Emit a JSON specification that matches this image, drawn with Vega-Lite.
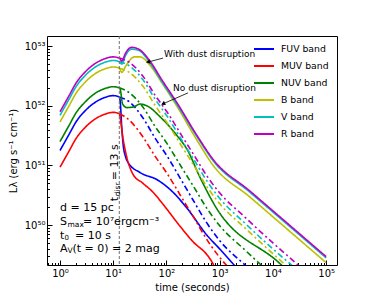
{
  "$schema": "https://vega.github.io/schema/vega-lite/v6.json",
  "width": 290,
  "height": 229,
  "autosize": {"type": "none"},
  "padding": {"left": 47, "top": 36, "right": 37, "bottom": 34},
  "background": "white",
  "config": {
    "view": {"stroke": "black", "strokeWidth": 1},
    "font": "DejaVu Sans",
    "text": {"font": "DejaVu Sans", "color": "black"}
  },
  "resolve": {"axis": {"x": "independent", "y": "independent"}},
  "datasets": {
    "curves": [
      {"t":1,"L":1.78e51,"band":"FUV band","model":"with"},
      {"t":1.5,"L":3.39e51,"band":"FUV band","model":"with"},
      {"t":2,"L":5.37e51,"band":"FUV band","model":"with"},
      {"t":3,"L":8.32e51,"band":"FUV band","model":"with"},
      {"t":5,"L":1.20e52,"band":"FUV band","model":"with"},
      {"t":7,"L":1.38e52,"band":"FUV band","model":"with"},
      {"t":10,"L":1.48e52,"band":"FUV band","model":"with"},
      {"t":13,"L":1.41e52,"band":"FUV band","model":"with"},
      {"t":13.6,"L":1.12e52,"band":"FUV band","model":"with"},
      {"t":14.5,"L":4.17e51,"band":"FUV band","model":"with"},
      {"t":15.5,"L":2.09e51,"band":"FUV band","model":"with"},
      {"t":17,"L":1.41e51,"band":"FUV band","model":"with"},
      {"t":19,"L":1.12e51,"band":"FUV band","model":"with"},
      {"t":32,"L":7.59e50,"band":"FUV band","model":"with"},
      {"t":67,"L":5.75e50,"band":"FUV band","model":"with"},
      {"t":133,"L":3.55e50,"band":"FUV band","model":"with"},
      {"t":244,"L":1.91e50,"band":"FUV band","model":"with"},
      {"t":577,"L":6.76e49,"band":"FUV band","model":"with"},
      {"t":1000,"L":3.98e49,"band":"FUV band","model":"with"},
      {"t":2000,"L":2.00e49,"band":"FUV band","model":"with"},
      {"t":13,"L":1.41e52,"band":"FUV band","model":"no"},
      {"t":20,"L":1.17e52,"band":"FUV band","model":"no"},
      {"t":36,"L":6.31e51,"band":"FUV band","model":"no"},
      {"t":61,"L":2.88e51,"band":"FUV band","model":"no"},
      {"t":102,"L":1.45e51,"band":"FUV band","model":"no"},
      {"t":200,"L":5.25e50,"band":"FUV band","model":"no"},
      {"t":316,"L":2.63e50,"band":"FUV band","model":"no"},
      {"t":600,"L":1.02e50,"band":"FUV band","model":"no"},
      {"t":977,"L":5.62e49,"band":"FUV band","model":"no"},
      {"t":3000,"L":2.14e49,"band":"FUV band","model":"no"},
      {"t":5000,"L":1.41e49,"band":"FUV band","model":"no"},
      {"t":1,"L":9.33e50,"band":"MUV band","model":"with"},
      {"t":1.5,"L":1.78e51,"band":"MUV band","model":"with"},
      {"t":2,"L":2.82e51,"band":"MUV band","model":"with"},
      {"t":3,"L":4.37e51,"band":"MUV band","model":"with"},
      {"t":5,"L":6.31e51,"band":"MUV band","model":"with"},
      {"t":7,"L":7.24e51,"band":"MUV band","model":"with"},
      {"t":10,"L":7.76e51,"band":"MUV band","model":"with"},
      {"t":13,"L":7.41e51,"band":"MUV band","model":"with"},
      {"t":13.6,"L":6.03e51,"band":"MUV band","model":"with"},
      {"t":15.3,"L":2.82e51,"band":"MUV band","model":"with"},
      {"t":18.2,"L":1.32e51,"band":"MUV band","model":"with"},
      {"t":23.6,"L":7.08e50,"band":"MUV band","model":"with"},
      {"t":36.3,"L":5.01e50,"band":"MUV band","model":"with"},
      {"t":56,"L":3.55e50,"band":"MUV band","model":"with"},
      {"t":86,"L":2.24e50,"band":"MUV band","model":"with"},
      {"t":180,"L":9.55e49,"band":"MUV band","model":"with"},
      {"t":316,"L":5.25e49,"band":"MUV band","model":"with"},
      {"t":580,"L":3.16e49,"band":"MUV band","model":"with"},
      {"t":719,"L":2.40e49,"band":"MUV band","model":"with"},
      {"t":900,"L":1.58e49,"band":"MUV band","model":"with"},
      {"t":13,"L":7.41e51,"band":"MUV band","model":"no"},
      {"t":20,"L":5.75e51,"band":"MUV band","model":"no"},
      {"t":36,"L":3.02e51,"band":"MUV band","model":"no"},
      {"t":61,"L":1.43e51,"band":"MUV band","model":"no"},
      {"t":102,"L":7.41e50,"band":"MUV band","model":"no"},
      {"t":200,"L":2.75e50,"band":"MUV band","model":"no"},
      {"t":316,"L":1.41e50,"band":"MUV band","model":"no"},
      {"t":600,"L":5.37e49,"band":"MUV band","model":"no"},
      {"t":977,"L":2.95e49,"band":"MUV band","model":"no"},
      {"t":3000,"L":1.07e49,"band":"MUV band","model":"no"},
      {"t":1,"L":2.51e51,"band":"NUV band","model":"with"},
      {"t":1.5,"L":4.79e51,"band":"NUV band","model":"with"},
      {"t":2,"L":7.59e51,"band":"NUV band","model":"with"},
      {"t":3,"L":1.17e52,"band":"NUV band","model":"with"},
      {"t":5,"L":1.70e52,"band":"NUV band","model":"with"},
      {"t":7,"L":1.95e52,"band":"NUV band","model":"with"},
      {"t":10,"L":2.09e52,"band":"NUV band","model":"with"},
      {"t":13,"L":2.00e52,"band":"NUV band","model":"with"},
      {"t":13.6,"L":1.86e52,"band":"NUV band","model":"with"},
      {"t":15,"L":1.07e52,"band":"NUV band","model":"with"},
      {"t":18,"L":9.33e51,"band":"NUV band","model":"with"},
      {"t":24,"L":9.55e51,"band":"NUV band","model":"with"},
      {"t":32,"L":1.07e52,"band":"NUV band","model":"with"},
      {"t":45,"L":9.77e51,"band":"NUV band","model":"with"},
      {"t":75,"L":6.61e51,"band":"NUV band","model":"with"},
      {"t":158,"L":3.16e51,"band":"NUV band","model":"with"},
      {"t":244,"L":1.86e51,"band":"NUV band","model":"with"},
      {"t":427,"L":6.31e50,"band":"NUV band","model":"with"},
      {"t":785,"L":2.24e50,"band":"NUV band","model":"with"},
      {"t":13700,"L":2.24e49,"band":"NUV band","model":"with"},
      {"t":20000,"L":1.62e49,"band":"NUV band","model":"with"},
      {"t":13,"L":2.00e52,"band":"NUV band","model":"no"},
      {"t":20,"L":1.66e52,"band":"NUV band","model":"no"},
      {"t":36,"L":9.55e51,"band":"NUV band","model":"no"},
      {"t":61,"L":4.52e51,"band":"NUV band","model":"no"},
      {"t":102,"L":2.34e51,"band":"NUV band","model":"no"},
      {"t":200,"L":8.81e50,"band":"NUV band","model":"no"},
      {"t":316,"L":4.57e50,"band":"NUV band","model":"no"},
      {"t":600,"L":1.80e50,"band":"NUV band","model":"no"},
      {"t":977,"L":1.00e50,"band":"NUV band","model":"no"},
      {"t":3000,"L":3.80e49,"band":"NUV band","model":"no"},
      {"t":10000,"L":1.41e49,"band":"NUV band","model":"no"},
      {"t":1,"L":5.37e51,"band":"B band","model":"with"},
      {"t":1.5,"L":1.02e52,"band":"B band","model":"with"},
      {"t":2,"L":1.62e52,"band":"B band","model":"with"},
      {"t":3,"L":2.51e52,"band":"B band","model":"with"},
      {"t":5,"L":3.63e52,"band":"B band","model":"with"},
      {"t":7,"L":4.17e52,"band":"B band","model":"with"},
      {"t":10,"L":4.47e52,"band":"B band","model":"with"},
      {"t":13,"L":4.27e52,"band":"B band","model":"with"},
      {"t":14.5,"L":3.63e52,"band":"B band","model":"with"},
      {"t":17,"L":4.57e52,"band":"B band","model":"with"},
      {"t":25,"L":6.61e52,"band":"B band","model":"with"},
      {"t":32,"L":6.61e52,"band":"B band","model":"with"},
      {"t":49,"L":4.79e52,"band":"B band","model":"with"},
      {"t":80,"L":2.51e52,"band":"B band","model":"with"},
      {"t":158,"L":9.77e51,"band":"B band","model":"with"},
      {"t":376,"L":2.63e51,"band":"B band","model":"with"},
      {"t":754,"L":1.00e51,"band":"B band","model":"with"},
      {"t":3700,"L":2.95e50,"band":"B band","model":"with"},
      {"t":100000,"L":2.34e49,"band":"B band","model":"with"},
      {"t":13,"L":4.27e52,"band":"B band","model":"no"},
      {"t":20,"L":3.63e52,"band":"B band","model":"no"},
      {"t":36,"L":2.14e52,"band":"B band","model":"no"},
      {"t":61,"L":1.02e52,"band":"B band","model":"no"},
      {"t":102,"L":5.25e51,"band":"B band","model":"no"},
      {"t":200,"L":2.00e51,"band":"B band","model":"no"},
      {"t":316,"L":1.05e51,"band":"B band","model":"no"},
      {"t":600,"L":4.17e50,"band":"B band","model":"no"},
      {"t":977,"L":2.34e50,"band":"B band","model":"no"},
      {"t":3000,"L":8.91e49,"band":"B band","model":"no"},
      {"t":10000,"L":3.31e49,"band":"B band","model":"no"},
      {"t":28000,"L":1.45e49,"band":"B band","model":"no"},
      {"t":1,"L":6.92e51,"band":"V band","model":"with"},
      {"t":1.5,"L":1.32e52,"band":"V band","model":"with"},
      {"t":2,"L":2.09e52,"band":"V band","model":"with"},
      {"t":3,"L":3.24e52,"band":"V band","model":"with"},
      {"t":5,"L":4.68e52,"band":"V band","model":"with"},
      {"t":7,"L":5.37e52,"band":"V band","model":"with"},
      {"t":10,"L":5.75e52,"band":"V band","model":"with"},
      {"t":13,"L":5.50e52,"band":"V band","model":"with"},
      {"t":14.5,"L":5.01e52,"band":"V band","model":"with"},
      {"t":17,"L":6.92e52,"band":"V band","model":"with"},
      {"t":22,"L":8.91e52,"band":"V band","model":"with"},
      {"t":30,"L":8.51e52,"band":"V band","model":"with"},
      {"t":49,"L":5.25e52,"band":"V band","model":"with"},
      {"t":80,"L":2.63e52,"band":"V band","model":"with"},
      {"t":158,"L":1.05e52,"band":"V band","model":"with"},
      {"t":376,"L":3.02e51,"band":"V band","model":"with"},
      {"t":754,"L":1.20e51,"band":"V band","model":"with"},
      {"t":3700,"L":3.55e50,"band":"V band","model":"with"},
      {"t":100000,"L":2.82e49,"band":"V band","model":"with"},
      {"t":13,"L":5.50e52,"band":"V band","model":"no"},
      {"t":20,"L":4.68e52,"band":"V band","model":"no"},
      {"t":36,"L":2.75e52,"band":"V band","model":"no"},
      {"t":61,"L":1.30e52,"band":"V band","model":"no"},
      {"t":102,"L":6.76e51,"band":"V band","model":"no"},
      {"t":200,"L":2.54e51,"band":"V band","model":"no"},
      {"t":316,"L":1.32e51,"band":"V band","model":"no"},
      {"t":600,"L":5.19e50,"band":"V band","model":"no"},
      {"t":977,"L":2.88e50,"band":"V band","model":"no"},
      {"t":3000,"L":1.07e50,"band":"V band","model":"no"},
      {"t":10000,"L":3.98e49,"band":"V band","model":"no"},
      {"t":28000,"L":1.78e49,"band":"V band","model":"no"},
      {"t":40000,"L":1.32e49,"band":"V band","model":"no"},
      {"t":1,"L":7.94e51,"band":"R band","model":"with"},
      {"t":1.5,"L":1.51e52,"band":"R band","model":"with"},
      {"t":2,"L":2.40e52,"band":"R band","model":"with"},
      {"t":3,"L":3.72e52,"band":"R band","model":"with"},
      {"t":5,"L":5.37e52,"band":"R band","model":"with"},
      {"t":7,"L":6.17e52,"band":"R band","model":"with"},
      {"t":10,"L":6.61e52,"band":"R band","model":"with"},
      {"t":13,"L":6.31e52,"band":"R band","model":"with"},
      {"t":14.5,"L":5.62e52,"band":"R band","model":"with"},
      {"t":17,"L":7.59e52,"band":"R band","model":"with"},
      {"t":22,"L":9.55e52,"band":"R band","model":"with"},
      {"t":30,"L":8.91e52,"band":"R band","model":"with"},
      {"t":49,"L":5.62e52,"band":"R band","model":"with"},
      {"t":80,"L":2.82e52,"band":"R band","model":"with"},
      {"t":158,"L":1.12e52,"band":"R band","model":"with"},
      {"t":376,"L":3.16e51,"band":"R band","model":"with"},
      {"t":754,"L":1.26e51,"band":"R band","model":"with"},
      {"t":3700,"L":3.72e50,"band":"R band","model":"with"},
      {"t":100000,"L":2.95e49,"band":"R band","model":"with"},
      {"t":13,"L":6.31e52,"band":"R band","model":"no"},
      {"t":20,"L":5.37e52,"band":"R band","model":"no"},
      {"t":36,"L":3.16e52,"band":"R band","model":"no"},
      {"t":61,"L":1.51e52,"band":"R band","model":"no"},
      {"t":102,"L":7.94e51,"band":"R band","model":"no"},
      {"t":200,"L":3.02e51,"band":"R band","model":"no"},
      {"t":316,"L":1.58e51,"band":"R band","model":"no"},
      {"t":600,"L":6.31e50,"band":"R band","model":"no"},
      {"t":977,"L":3.55e50,"band":"R band","model":"no"},
      {"t":3000,"L":1.35e50,"band":"R band","model":"no"},
      {"t":10000,"L":5.01e49,"band":"R band","model":"no"},
      {"t":28000,"L":2.24e49,"band":"R band","model":"no"},
      {"t":40000,"L":1.66e49,"band":"R band","model":"no"}
    ]
  },
  "layer": [
    {
      "data": {"name": "curves"},
      "mark": {"type": "line", "clip": true, "strokeWidth": 1.6, "interpolate": "monotone"},
      "encoding": {
        "x": {
          "field": "t", "type": "quantitative",
          "scale": {"type": "log", "domain": [0.57, 160000], "nice": false},
          "axis": {
            "orient": "bottom",
            "title": "time (seconds)",
            "values": [1,10,100,1000,10000,100000],
            "labelExpr": "'10' + substring('⁰¹²³⁴⁵⁶⁷⁸⁹', round(log(datum.value)/LN10), round(log(datum.value)/LN10) + 1)",
            "tickSize": -5,
            "tickColor": "black", "tickWidth": 1,
            "labelPadding": 8, "labelFontSize": 10, "labelFont": "DejaVu Sans", "labelColor": "black",
            "labelOverlap": false, "labelFlush": false, "labelBound": false,
            "domain": false, "grid": false,
            "titleFont": "DejaVu Sans", "titleFontSize": 10, "titleFontWeight": "normal", "titleColor": "black",
            "titleX": 145, "titleY": 25, "titleBaseline": "alphabetic"
          }
        },
        "y": {
          "field": "L", "type": "quantitative",
          "scale": {"type": "log", "domain": [2.14e49, 1.48e53], "nice": false},
          "axis": {
            "orient": "left",
            "title": "Lλ (erg s⁻¹ cm⁻¹)",
            "values": [1e50,1e51,1e52,1e53],
            "labelExpr": "'10' + substring('⁰¹²³⁴⁵⁶⁷⁸⁹', floor(round(log(datum.value)/LN10)/10), floor(round(log(datum.value)/LN10)/10) + 1) + substring('⁰¹²³⁴⁵⁶⁷⁸⁹', round(log(datum.value)/LN10) % 10, round(log(datum.value)/LN10) % 10 + 1)",
            "tickSize": -5,
            "tickColor": "black", "tickWidth": 1,
            "labelPadding": 7, "labelFontSize": 10, "labelFont": "DejaVu Sans", "labelColor": "black",
            "labelOverlap": false, "labelFlush": false, "labelBound": false,
            "domain": false, "grid": false,
            "titleFont": "DejaVu Sans", "titleFontSize": 10, "titleFontWeight": "normal", "titleColor": "black",
            "titleX": -31, "titleY": 114.5, "titleAngle": 270, "titleAlign": "center", "titleBaseline": "alphabetic"
          }
        },
        "color": {
          "field": "band", "type": "nominal",
          "scale": {"domain": ["FUV band","MUV band","NUV band","B band","V band","R band"], "range": ["#0000ff","#ff0000","#008000","#bfbf00","#00bfbf","#bf00bf"]},
          "legend": {
            "title": null, "orient": "none", "legendX": 206, "legendY": 2,
            "symbolType": "stroke", "symbolSize": 400, "symbolStrokeWidth": 2,
            "labelFontSize": 9.3, "labelFont": "DejaVu Sans", "labelColor": "black",
            "labelOffset": 6, "rowPadding": -6, "padding": 0
          }
        },
        "strokeDash": {
          "field": "model", "type": "nominal",
          "scale": {"domain": ["with","no"], "range": [[1,0],[6,3,2,3]]},
          "legend": null
        }
      }
    },
    {
      "data": {"values": [{"t": 13}]},
      "mark": {"type": "rule", "color": "#707070", "strokeWidth": 1, "strokeDash": [3,2]},
      "encoding": {"x": {"field": "t", "type": "quantitative", "axis": null}}
    },
    {
      "data": {"values": [{"t1": 86.3, "L1": 6.31e52, "t2": 45.1, "L2": 5.41e52}, {"t1": 254.7, "L1": 1.648e52, "t2": 86.3, "L2": 1.08e52}]},
      "mark": {"type": "rule", "color": "black", "strokeWidth": 0.8},
      "encoding": {
        "x": {"field": "t1", "type": "quantitative", "axis": null},
        "y": {"field": "L1", "type": "quantitative", "axis": null},
        "x2": {"field": "t2"},
        "y2": {"field": "L2"}
      }
    },
    {
      "data": {"values": [{"t": 45.1, "L": 5.41e52}]},
      "mark": {"type": "point", "shape": "triangle-right", "filled": true, "color": "black", "size": 22, "angle": 165, "opacity": 1},
      "encoding": {"x": {"field": "t", "type": "quantitative", "axis": null}, "y": {"field": "L", "type": "quantitative", "axis": null}}
    },
    {
      "data": {"values": [{"t": 86.3, "L": 1.08e52}]},
      "mark": {"type": "point", "shape": "triangle-right", "filled": true, "color": "black", "size": 22, "angle": 155, "opacity": 1},
      "encoding": {"x": {"field": "t", "type": "quantitative", "axis": null}, "y": {"field": "L", "type": "quantitative", "axis": null}}
    },
    {
      "data": {"values": [{"t": 90.1, "L": 7.36e52, "label": "With dust disruption"}, {"t": 133, "L": 2.0e52, "label": "No dust disruption"}]},
      "mark": {"type": "text", "align": "left", "baseline": "middle", "fontSize": 9, "font": "DejaVu Sans", "color": "black"},
      "encoding": {"x": {"field": "t", "type": "quantitative", "axis": null}, "y": {"field": "L", "type": "quantitative", "axis": null}, "text": {"field": "label"}}
    },
    {
      "data": {"values": [{"t": 1, "L": 1.92e50, "label": "d = 15 pc"}, {"t": 1, "L": 1.12e50, "label": "S"}, {"t": 1, "L": 6.68e49, "label": "t"}, {"t": 1, "L": 3.98e49, "label": "A"}]},
      "mark": {"type": "text", "align": "left", "baseline": "middle", "fontSize": 11, "font": "DejaVu Sans", "color": "black"},
      "encoding": {
        "x": {"field": "t", "type": "quantitative", "axis": {
          "orient": "bottom", "title": null, "labels": false, "domain": false, "grid": false,
          "values": [0.6,0.7,0.8,0.9,2,3,4,5,6,7,8,9,20,30,40,50,60,70,80,90,200,300,400,500,600,700,800,900,2000,3000,4000,5000,6000,7000,8000,9000,20000,30000,40000,50000,60000,70000,80000,90000],
          "tickSize": -2.5, "tickColor": "black", "tickWidth": 1}},
        "y": {"field": "L", "type": "quantitative", "axis": {
          "orient": "left", "title": null, "labels": false, "domain": false, "grid": false,
          "values": [3e49,4e49,5e49,6e49,7e49,8e49,9e49,2e50,3e50,4e50,5e50,6e50,7e50,8e50,9e50,2e51,3e51,4e51,5e51,6e51,7e51,8e51,9e51,2e52,3e52,4e52,5e52,6e52,7e52,8e52,9e52],
          "tickSize": -2.5, "tickColor": "black", "tickWidth": 1}},
        "text": {"field": "label"}
      }
    },
    {
      "data": {"values": [{"t": 1, "L": 1.12e50, "label": "max"}, {"t": 1, "L": 3.98e49, "label": "V"}]},
      "mark": {"type": "text", "align": "left", "baseline": "middle", "fontSize": 7.5, "dx": 7.5, "dy": 2.5, "font": "DejaVu Sans", "color": "black"},
      "encoding": {"x": {"field": "t", "type": "quantitative", "axis": null}, "y": {"field": "L", "type": "quantitative", "axis": null}, "text": {"field": "label"}}
    },
    {
      "data": {"values": [{"t": 1, "L": 6.68e49, "label": "0"}]},
      "mark": {"type": "text", "align": "left", "baseline": "middle", "fontSize": 7, "dx": 4.5, "dy": 2, "font": "DejaVu Sans", "color": "black"},
      "encoding": {"x": {"field": "t", "type": "quantitative", "axis": null}, "y": {"field": "L", "type": "quantitative", "axis": null}, "text": {"field": "label"}}
    },
    {
      "data": {"values": [{"t": 1, "L": 1.12e50, "label": "= 10⁷ergcm⁻³"}]},
      "mark": {"type": "text", "align": "left", "baseline": "middle", "fontSize": 11, "dx": 23, "font": "DejaVu Sans", "color": "black"},
      "encoding": {"x": {"field": "t", "type": "quantitative", "axis": null}, "y": {"field": "L", "type": "quantitative", "axis": null}, "text": {"field": "label"}}
    },
    {
      "data": {"values": [{"t": 1, "L": 6.68e49, "label": "= 10 s"}]},
      "mark": {"type": "text", "align": "left", "baseline": "middle", "fontSize": 11, "dx": 15, "font": "DejaVu Sans", "color": "black"},
      "encoding": {"x": {"field": "t", "type": "quantitative", "axis": null}, "y": {"field": "L", "type": "quantitative", "axis": null}, "text": {"field": "label"}}
    },
    {
      "data": {"values": [{"t": 1, "L": 3.98e49, "label": "(t = 0) = 2 mag"}]},
      "mark": {"type": "text", "align": "left", "baseline": "middle", "fontSize": 11, "dx": 12.5, "font": "DejaVu Sans", "color": "black"},
      "encoding": {"x": {"field": "t", "type": "quantitative", "axis": null}, "y": {"field": "L", "type": "quantitative", "axis": null}, "text": {"field": "label"}}
    },
    {
      "data": {"values": [{"t": 12.05, "L": 2.51e50, "label": "t"}]},
      "mark": {"type": "text", "align": "left", "baseline": "alphabetic", "angle": 270, "fontSize": 11, "font": "DejaVu Sans", "color": "black"},
      "encoding": {"x": {"field": "t", "type": "quantitative", "axis": null}, "y": {"field": "L", "type": "quantitative", "axis": null}, "text": {"field": "label"}}
    },
    {
      "data": {"values": [{"t": 12.05, "L": 2.51e50, "label": "disr"}]},
      "mark": {"type": "text", "align": "left", "baseline": "alphabetic", "angle": 270, "fontSize": 7.5, "dx": 5, "dy": 2.5, "font": "DejaVu Sans", "color": "black"},
      "encoding": {"x": {"field": "t", "type": "quantitative", "axis": null}, "y": {"field": "L", "type": "quantitative", "axis": null}, "text": {"field": "label"}}
    },
    {
      "data": {"values": [{"t": 12.05, "L": 2.51e50, "label": "= 13 s"}]},
      "mark": {"type": "text", "align": "left", "baseline": "alphabetic", "angle": 270, "fontSize": 11, "dx": 21, "font": "DejaVu Sans", "color": "black"},
      "encoding": {"x": {"field": "t", "type": "quantitative", "axis": null}, "y": {"field": "L", "type": "quantitative", "axis": null}, "text": {"field": "label"}}
    }
  ]
}
